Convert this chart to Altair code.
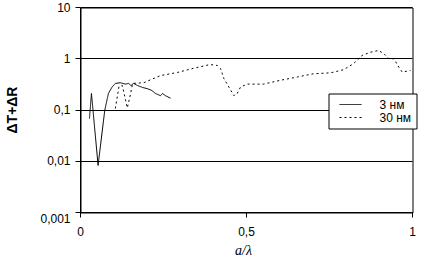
import altair as alt
import pandas as pd

# 3 nm series (solid)
x_3nm = [0.027, 0.033, 0.053, 0.073, 0.084, 0.095, 0.105, 0.12, 0.135, 0.145,
         0.152, 0.160, 0.172, 0.187, 0.202, 0.215, 0.226, 0.241, 0.247, 0.256, 0.271]
y_3nm = [0.068, 0.21, 0.0083, 0.098, 0.21, 0.28, 0.33, 0.34, 0.32, 0.33,
         0.30, 0.33, 0.30, 0.275, 0.26, 0.24, 0.21, 0.19, 0.21, 0.19, 0.17]

# 30 nm series (dotted)
x_30nm = [0.105, 0.116, 0.126, 0.141, 0.151, 0.157, 0.19, 0.241, 0.292, 0.34,
          0.39, 0.412, 0.422, 0.432, 0.447, 0.462, 0.472, 0.482, 0.502, 0.551,
          0.602, 0.653, 0.702, 0.753, 0.792, 0.822, 0.848, 0.873, 0.898, 0.914,
          0.929, 0.944, 0.959, 0.969, 0.994]
y_30nm = [0.107, 0.29, 0.30, 0.11, 0.21, 0.33, 0.34, 0.47, 0.54, 0.65,
          0.77, 0.74, 0.64, 0.41, 0.28, 0.19, 0.21, 0.28, 0.32, 0.32,
          0.38, 0.44, 0.51, 0.53, 0.61, 0.80, 1.16, 1.34, 1.45, 1.25,
          1.0, 1.0, 0.68, 0.55, 0.59]

series_names = ["3 нм", "30 нм"]
y_ticks = [0.001, 0.01, 0.1, 1, 10]
x_ticks = [0, 0.5, 1]

rows = []
for i, (a, b) in enumerate(zip(x_3nm, y_3nm)):
    rows.append({"x": a, "y": b, "s": series_names[0], "o": i})
for i, (a, b) in enumerate(zip(x_30nm, y_30nm)):
    rows.append({"x": a, "y": b, "s": series_names[1], "o": i})
df = pd.DataFrame(rows)

FONT = "Liberation Sans"

chart = alt.Chart(df).mark_line(color="black", strokeWidth=1).encode(
    x=alt.X("x:Q",
            scale=alt.Scale(domain=[0, 1], nice=False, zero=False),
            axis=alt.Axis(values=x_ticks, title="a/λ", grid=False,
                          labelExpr="replace(toString(datum.value), '.', ',')",
                          labelFlush=False, tickSize=5, labelPadding=9,
                          titleFont="Liberation Serif", titleFontStyle="italic",
                          titleFontWeight="normal", titleFontSize=14,
                          titleX=163, titleY=42, titleBaseline="alphabetic")),
    y=alt.Y("y:Q",
            scale=alt.Scale(type="log", domain=[0.001, 10], nice=False),
            axis=alt.Axis(values=y_ticks, title="ΔT+ΔR", grid=True,
                          labelExpr="replace(toString(datum.value), '.', ',')",
                          tickSize=5, labelPadding=5,
                          labelOffset={"condition": {"test": "datum.value == 0.001", "value": 6}, "value": 0},
                          titleFont=FONT, titleFontWeight="bold", titleFontSize=14,
                          titleAngle=270, titleX=-64, titleY=102.5,
                          titleAlign="center", titleBaseline="alphabetic")),
    strokeDash=alt.StrokeDash("s:N",
                              scale=alt.Scale(domain=series_names, range=[[1, 0], [2, 3]]),
                              legend=alt.Legend(title=None, orient="none",
                                                legendX=248, legendY=86,
                                                strokeColor="black", fillColor="white",
                                                padding=5, symbolType="M0,0H4",
                                                symbolSize=121, symbolStrokeWidth=1,
                                                symbolStrokeColor="black",
                                                labelOffset=34, labelFontSize=12,
                                                labelFont=FONT, labelColor="black",
                                                rowPadding=1, cornerRadius=0)),
    order="o:Q",
).properties(
    width=332, height=205,
    autosize=alt.AutoSizeParams(type="none"),
    padding={"left": 80.5, "top": 7.5, "right": 13.5, "bottom": 49.5},
    background="white",
).configure_view(
    stroke="black", strokeWidth=1
).configure_axis(
    domainColor="black", tickColor="black", labelColor="black", titleColor="black",
    gridColor="black", gridWidth=1, gridOpacity=1, labelFont=FONT, labelFontSize=12,
    domainWidth=1, tickWidth=1, translate=0
)

chart.save("out.html", embed_options={"renderer": "svg", "actions": False})
